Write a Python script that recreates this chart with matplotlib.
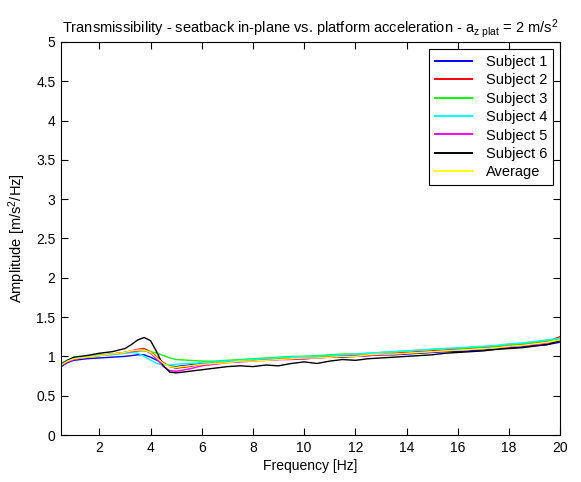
import matplotlib
matplotlib.use("Agg")
import matplotlib.pyplot as plt

plt.rcParams['font.family'] = ['Liberation Sans', 'DejaVu Sans']
plt.rcParams['mathtext.default'] = 'regular'

freq = [0.5, 0.75, 1, 1.5, 2, 2.5, 3, 3.25, 3.5, 3.75, 4, 4.25, 4.5, 4.75, 5, 5.5, 6, 6.5, 7,
        7.5, 8, 8.5, 9, 9.5, 10, 10.5, 11, 11.5, 12, 12.5, 13, 13.5, 14, 14.5, 15, 15.5, 16,
        16.5, 17, 17.5, 18, 18.5, 19, 19.5, 20]

subject1 = [0.87, 0.92, 0.95, 0.97, 0.98, 0.99, 1.00, 1.01, 1.02, 1.02, 0.99, 0.95, 0.91, 0.88, 0.87,
            0.89, 0.91, 0.92, 0.93, 0.94, 0.95, 0.95, 0.96, 0.97, 0.97, 0.98, 0.99, 0.99, 1.00, 1.01,
            1.02, 1.02, 1.03, 1.04, 1.05, 1.06, 1.06, 1.07, 1.08, 1.09, 1.11, 1.12, 1.14, 1.15, 1.18]
subject2 = [0.89, 0.94, 0.97, 0.99, 1.01, 1.03, 1.05, 1.07, 1.09, 1.10, 1.06, 0.99, 0.92, 0.87, 0.85,
            0.87, 0.90, 0.92, 0.93, 0.95, 0.95, 0.96, 0.97, 0.97, 0.98, 0.99, 1.00, 1.01, 1.01, 1.02,
            1.03, 1.04, 1.05, 1.06, 1.07, 1.08, 1.09, 1.10, 1.11, 1.12, 1.14, 1.15, 1.17, 1.19, 1.25]
subject3 = [0.90, 0.95, 0.98, 1.00, 1.02, 1.03, 1.05, 1.06, 1.07, 1.07, 1.06, 1.04, 1.01, 0.98, 0.96,
            0.95, 0.94, 0.94, 0.95, 0.96, 0.97, 0.98, 0.99, 1.00, 1.00, 1.01, 1.02, 1.03, 1.03, 1.04,
            1.05, 1.06, 1.07, 1.08, 1.09, 1.10, 1.10, 1.11, 1.12, 1.13, 1.15, 1.16, 1.18, 1.20, 1.22]
subject4 = [0.91, 0.95, 0.97, 0.99, 1.01, 1.02, 1.04, 1.05, 1.04, 1.00, 0.95, 0.91, 0.89, 0.89, 0.90,
            0.91, 0.92, 0.93, 0.94, 0.95, 0.96, 0.97, 0.98, 0.99, 1.00, 1.00, 1.01, 1.02, 1.03, 1.04,
            1.05, 1.06, 1.07, 1.08, 1.09, 1.10, 1.11, 1.12, 1.13, 1.14, 1.16, 1.17, 1.19, 1.21, 1.23]
subject5 = [0.88, 0.93, 0.96, 0.99, 1.01, 1.03, 1.05, 1.06, 1.07, 1.08, 1.04, 0.96, 0.87, 0.82, 0.81,
            0.84, 0.88, 0.90, 0.92, 0.93, 0.94, 0.95, 0.96, 0.96, 0.97, 0.98, 0.99, 1.00, 1.00, 1.01,
            1.02, 1.03, 1.04, 1.05, 1.06, 1.07, 1.08, 1.09, 1.10, 1.11, 1.12, 1.14, 1.15, 1.17, 1.20]
subject6 = [0.90, 0.95, 0.99, 1.01, 1.04, 1.06, 1.10, 1.15, 1.21, 1.24, 1.20, 1.05, 0.88, 0.80, 0.79,
            0.81, 0.83, 0.85, 0.87, 0.88, 0.87, 0.89, 0.88, 0.91, 0.93, 0.91, 0.94, 0.96, 0.95, 0.97,
            0.98, 0.99, 1.00, 1.01, 1.02, 1.04, 1.05, 1.06, 1.07, 1.09, 1.10, 1.11, 1.13, 1.15, 1.20]
average = [0.89, 0.94, 0.97, 0.99, 1.01, 1.03, 1.05, 1.07, 1.08, 1.08, 1.05, 0.98, 0.91, 0.87, 0.86,
           0.88, 0.90, 0.91, 0.92, 0.94, 0.94, 0.95, 0.96, 0.97, 0.98, 0.98, 0.99, 1.00, 1.00, 1.02,
           1.03, 1.03, 1.04, 1.05, 1.06, 1.07, 1.08, 1.09, 1.10, 1.11, 1.13, 1.14, 1.16, 1.18, 1.21]

series = [subject1, subject2, subject3, subject4, subject5, subject6, average]
labels = ['Subject 1', 'Subject 2', 'Subject 3', 'Subject 4', 'Subject 5', 'Subject 6', 'Average']
colors = ['#0000ff', '#ff0000', '#00ff00', '#00ffff', '#ff00ff', '#000000', '#ffff00']

fig = plt.figure(figsize=(5.81, 4.82), dpi=100)
ax = fig.add_axes([0.105, 0.0975, 0.859, 0.8155])

for vals, lab, col in zip(series, labels, colors):
    ax.plot(freq, vals, color=col, linewidth=1.0, label=lab)

ax.set_xlim(0.5, 20)
ax.set_ylim(0, 5)
ax.set_xticks([2, 4, 6, 8, 10, 12, 14, 16, 18, 20])
ax.set_yticks([0, 0.5, 1, 1.5, 2, 2.5, 3, 3.5, 4, 4.5, 5])
ax.set_yticklabels(['0', '0.5', '1', '1.5', '2', '2.5', '3', '3.5', '4', '4.5', '5'])
ax.tick_params(direction='in', top=True, right=True, labelsize=10, length=5, width=0.8, pad=4)
for s in ax.spines.values():
    s.set_linewidth(0.8)

ax.set_xlabel('Frequency [Hz]', fontsize=10, labelpad=3)
ax.set_ylabel('Amplitude [m/s$^2$/Hz]', fontsize=10.5, labelpad=6)
ax.set_title('Transmissibility - seatback in-plane vs. platform acceleration - '
             'a$_{z\\ plat}$ = 2 m/s$^2$', fontsize=10.5, pad=7)

leg = ax.legend(loc='upper right', fontsize=10.5, fancybox=False, framealpha=1,
                edgecolor='black', handlelength=2.6, labelspacing=0.3,
                borderaxespad=0.5, borderpad=0.4, handletextpad=0.9)
leg.get_frame().set_linewidth(0.8)
for line in leg.get_lines():
    line.set_linewidth(1.4)

fig.savefig('out.png', dpi=100)
